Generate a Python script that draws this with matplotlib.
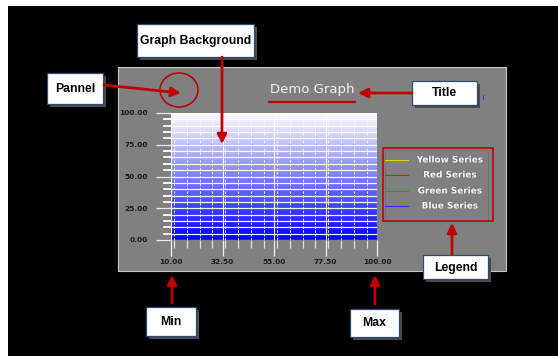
import matplotlib
matplotlib.use("Agg")
import matplotlib.pyplot as plt
import numpy as np
from matplotlib.patches import Rectangle, Ellipse, FancyArrowPatch
from matplotlib.ticker import FixedLocator, MultipleLocator
from matplotlib.colors import LinearSegmentedColormap
import matplotlib.patheffects as pe

W, H, DPI = 558, 356, 100

# ---- data ----
title = "Demo Graph"
x_ticks = [10.00, 32.50, 55.00, 77.50, 100.00]
y_ticks = [0.00, 25.00, 50.00, 75.00, 100.00]
x_range = [10.0, 100.0]
y_range = [0.0, 100.0]
series_names = ["Yellow Series", "Red Series", "Green Series", "Blue Series"]
series_colors = ["#d8d800", "#d82020", "#20a020", "#3030f0"]
series_x = [[], [], [], []]
series_y = [[], [], [], []]
callouts = ["Graph Background", "Pannel", "Title", "Legend", "Min", "Max"]

fig = plt.figure(figsize=(W / DPI, H / DPI), dpi=DPI, facecolor="white")

def px(x0, y0, x1, y1):
    return [x0 / W, 1 - y1 / H, (x1 - x0) / W, (y1 - y0) / H]

# background / panel
bg = fig.add_axes([0, 0, 1, 1], zorder=0)
bg.set_xlim(0, W); bg.set_ylim(H, 0); bg.axis("off")
bg.add_patch(Rectangle((8, 6), W - 8, H - 6, facecolor="black", edgecolor="none"))
bg.add_patch(Rectangle((118, 67), 388, 204, facecolor="#808080", edgecolor="#c8c8c8", lw=0.8))

# plot area
ax = fig.add_axes(px(171, 113, 377, 240), zorder=1)
ax.set_facecolor("none")
ax.set_xlim(*x_range); ax.set_ylim(*y_range)
grad = np.linspace(0, 1, 256).reshape(-1, 1)
cmap = LinearSegmentedColormap.from_list("bw", ["#0000ff", "#ffffff"])
ax.imshow(grad, extent=[x_range[0], x_range[1], y_range[0], y_range[1]], origin="lower",
          aspect="auto", cmap=cmap, zorder=0, interpolation="bilinear")
for s in ax.spines.values():
    s.set_visible(False)

ax.xaxis.set_major_locator(FixedLocator(x_ticks))
ax.xaxis.set_minor_locator(MultipleLocator((x_ticks[1] - x_ticks[0]) / 4))
ax.yaxis.set_major_locator(FixedLocator(y_ticks))
ax.yaxis.set_minor_locator(MultipleLocator(5))
ax.set_xticklabels([f"{v:.2f}" for v in x_ticks])
ax.set_yticklabels([f"{v:.2f}" for v in y_ticks])
for lab in ax.get_xticklabels() + ax.get_yticklabels():
    lab.set_fontfamily("DejaVu Sans"); lab.set_fontweight("bold")
    lab.set_fontsize(5.3); lab.set_color("#1a1a1a")
ax.tick_params(axis="y", which="major", length=10.8, width=0.9, color="#e8e8e8", pad=5.8)
ax.tick_params(axis="y", which="minor", length=5.8, width=1.3, color="white")
ax.tick_params(axis="x", which="major", length=11.5, width=0.9, color="#f0f0f0", pad=2.5)
ax.tick_params(axis="x", which="minor", length=5.8, width=0.9, color="#e0e0e0")

ax.grid(True, axis="y", which="both", color="white", lw=0.9, alpha=0.95, zorder=1)
ax.grid(True, axis="x", which="major", color="white", lw=0.8, zorder=1)
ax.grid(True, axis="x", which="minor", color="white", lw=0.7, alpha=0.85,
        linestyle=(0, (2.5, 1.5)), zorder=1)
ax.set_axisbelow(False)

lines = []
for name, c, xs, ys in zip(series_names, series_colors, series_x, series_y):
    ln, = ax.plot(xs, ys, color=c, lw=0.8, label=name)
    lines.append(ln)

# overlay
ov = fig.add_axes([0, 0, 1, 1], zorder=2)
ov.set_facecolor("none")
ov.set_xlim(0, W); ov.set_ylim(H, 0); ov.axis("off")

ov.text(312, 90, title, ha="center", va="center", fontsize=9.5, color="#f2f2f2",
        family="DejaVu Sans")

# legend (manual, centered labels)
ov.add_patch(Rectangle((385, 150), 103, 70, facecolor="none", edgecolor="#727272", lw=0.6))
leg_y = [160, 175, 191, 206]
for ln, yy in zip(lines, leg_y):
    ov.plot([385, 408], [yy, yy], color=ln.get_color(), lw=0.8)
    ov.text(450, yy, ln.get_label(), ha="center", va="center", fontsize=6.4,
            fontweight="bold", color="#f8f8f8", family="DejaVu Sans",
            path_effects=[pe.withStroke(linewidth=0.8, foreground="#707070")])

RED = "#c00000"

def box(x0, y0, x1, y1, text):
    ov.add_patch(Rectangle((x0 + 3, y0 + 3), x1 - x0, y1 - y0, facecolor="#4a4a4a",
                           edgecolor="none"))
    ov.add_patch(Rectangle((x0, y0), x1 - x0, y1 - y0, facecolor="white",
                           edgecolor="#2c4a74", lw=0.9))
    ov.text((x0 + x1) / 2, (y0 + y1) / 2 + 0.5, text, ha="center", va="center",
            fontsize=8.8, fontweight="bold", color="black", family="Liberation Sans")

def arrow(p0, p1):
    ov.add_patch(FancyArrowPatch(p0, p1, arrowstyle="-|>", mutation_scale=14,
                                 color=RED, lw=2.0, shrinkA=0, shrinkB=0))

box(137, 24, 254, 57, callouts[0])
box(47, 73, 103, 104, callouts[1])
box(412, 81, 477, 105, callouts[2])
box(423, 255, 488, 279, callouts[3])
box(146, 307, 196, 336, callouts[4])
box(350, 309, 399, 337, callouts[5])

arrow((222, 57), (222, 144))
arrow((104, 85), (181, 93))
arrow((412, 93), (358, 93))
arrow((452, 254), (452, 223))
arrow((172, 303), (172, 275))
arrow((375, 304), (375, 275))

ov.add_patch(Ellipse((179, 90), 38, 34, facecolor="none", edgecolor=RED, lw=1.1))
ov.plot([268, 356], [102, 102], color=RED, lw=1.6, solid_capstyle="butt")
ov.add_patch(Rectangle((383, 148), 110, 73, facecolor="none", edgecolor=RED, lw=1.1))
ov.plot([483, 483], [95, 99], color="#3050c0", lw=0.8)

fig.savefig("out.png", dpi=DPI, facecolor=fig.get_facecolor())
